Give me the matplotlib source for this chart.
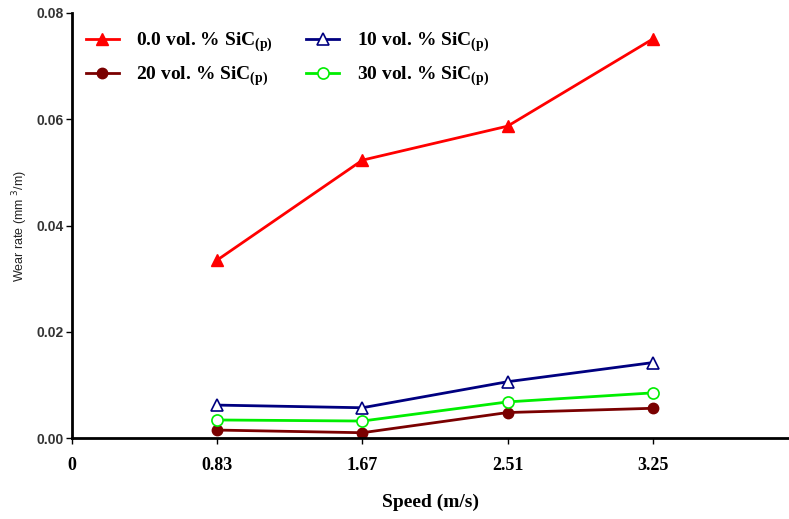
import matplotlib
matplotlib.use("Agg")
from matplotlib import pyplot as plt

speeds = ["0.83", "1.67", "2.51", "3.25"]
sic_0 = [0.0335, 0.0523, 0.0587, 0.0751]
sic_10 = [0.0062, 0.0057, 0.0106, 0.0142]
sic_20 = [0.0015, 0.0010, 0.0048, 0.0056]
sic_30 = [0.0034, 0.0032, 0.0068, 0.0085]

pos = [1, 2, 3, 4]

fig = plt.figure(figsize=(7.89, 5.19), dpi=100)
ax = fig.add_axes([0.0913, 0.156, 0.909, 0.819])

serif = "Liberation Serif"
sub = r"SiC$_{\mathregular{(p)}}$"

l0, = ax.plot(pos, sic_0, color="#ff0000", lw=2, marker="^", ms=9,
              label="0.0 vol. % " + sub)
l20, = ax.plot(pos, sic_20, color="#7a0000", lw=2, marker="o", ms=7.5,
               label="20 vol. % " + sub)
l10, = ax.plot(pos, sic_10, color="#000080", lw=2, marker="^", ms=9,
               mfc="white", mew=1.2, label="10 vol. % " + sub)
l30, = ax.plot(pos, sic_30, color="#00ee00", lw=2, marker="o", ms=8,
               mfc="white", mew=1.2, label="30 vol. % " + sub)

ax.set_xlim(0, 4.94)
ax.set_ylim(0, 0.08)
ax.set_xticks([0] + pos)
ax.set_xticklabels(["0"] + speeds, fontfamily=serif, fontweight="bold",
                   fontsize=13)
ax.set_yticks([0, 0.02, 0.04, 0.06, 0.08])
ax.set_yticklabels(["0.00", "0.02", "0.04", "0.06", "0.08"],
                   fontfamily="Liberation Sans", fontweight="bold",
                   fontsize=10, color="#333333")
ax.tick_params(axis="x", length=4, width=1, pad=10)
ax.tick_params(axis="y", length=4, width=1, pad=2)

ax.spines["top"].set_visible(False)
ax.spines["right"].set_visible(False)
ax.spines["left"].set_linewidth(2)
ax.spines["bottom"].set_linewidth(2)

ax.set_xlabel("Speed (m/s)", fontfamily=serif, fontweight="bold",
              fontsize=14, labelpad=14)
ax.set_ylabel(r"Wear rate (mm $^{3}$/m)", fontfamily="Liberation Sans",
              fontsize=9, color="#222222")
ax.yaxis.set_label_coords(-0.058, 0.5)

leg = ax.legend(handles=[l0, l20, l10, l30], ncol=2, frameon=False,
                loc="upper left", bbox_to_anchor=(0.0, 0.99),
                prop={"family": serif, "weight": "bold", "size": 14},
                handlelength=1.7, handletextpad=0.9, columnspacing=1.7,
                labelspacing=0.55, borderaxespad=0.3)

fig.savefig("out.png", dpi=100)
